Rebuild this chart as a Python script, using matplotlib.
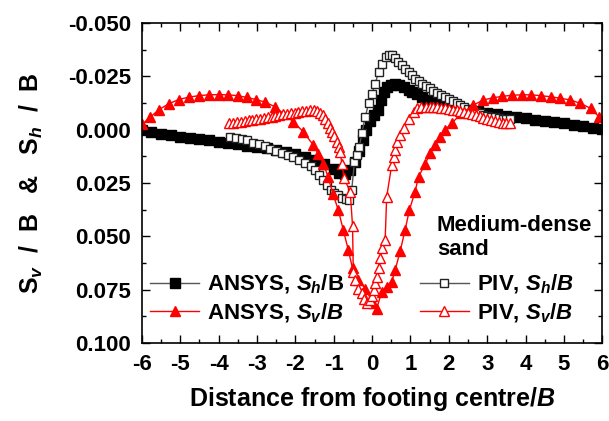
import matplotlib
matplotlib.use('Agg')
import matplotlib.pyplot as plt
from matplotlib.ticker import MultipleLocator, FormatStrFormatter

plt.rcParams['font.family'] = ['Liberation Sans', 'DejaVu Sans']
plt.rcParams['font.weight'] = 'bold'
plt.rcParams['axes.labelweight'] = 'bold'
plt.rcParams['axes.unicode_minus'] = False
plt.rcParams['mathtext.fontset'] = 'custom'
plt.rcParams['mathtext.rm'] = 'Liberation Sans:bold'
plt.rcParams['mathtext.it'] = 'Liberation Sans:italic:bold'
plt.rcParams['mathtext.bf'] = 'Liberation Sans:bold'

# ANSYS, Sh/B (filled squares)
ansys_h_x = [-6.0, -5.75, -5.5, -5.25, -5.0, -4.75, -4.5, -4.25, -4.0, -3.75, -3.5, -3.25,
             -3.0, -2.75, -2.5, -2.25, -2.0, -1.75, -1.5, -1.25, -1.0, -0.85, -0.7, -0.57,
             -0.45, -0.35, -0.25, -0.15, -0.05, 0.05, 0.15, 0.22, 0.3, 0.4, 0.5, 0.6, 0.7,
             0.82, 0.95, 1.05, 1.18, 1.3, 1.42, 1.55, 1.75, 2.0, 2.25, 2.5, 2.75, 3.0, 3.25,
             3.5, 3.75, 4.0, 4.25, 4.5, 4.75, 5.0, 5.25, 5.5, 5.75, 6.0]
ansys_h_y = [0.0, 0.001, 0.0018, 0.0025, 0.0032, 0.0038, 0.0044, 0.005, 0.0056, 0.0062,
             0.0068, 0.0074, 0.008, 0.0087, 0.0095, 0.0104, 0.0114, 0.0126, 0.014, 0.0158,
             0.0185, 0.0202, 0.0206, 0.019, 0.015, 0.010, 0.005, 0.0, -0.004, -0.007,
             -0.0095, -0.014, -0.0178, -0.020, -0.021, -0.0217, -0.021, -0.020, -0.0188,
             -0.0178, -0.0166, -0.0155, -0.0142, -0.0131, -0.0122, -0.0112, -0.0102,
             -0.0094, -0.0086, -0.0079, -0.0072, -0.0066, -0.006, -0.0054, -0.0048,
             -0.0042, -0.0036, -0.003, -0.0023, -0.0016, -0.0009, -0.0002]

# ANSYS, Sv/B (filled triangles)
ansys_v_x = [-6.0, -5.78, -5.55, -5.3, -5.04, -4.78, -4.52, -4.26, -4.0, -3.75, -3.5, -3.27,
             -3.03, -2.79, -2.53, -2.05, -1.79, -1.53, -1.4, -1.27, -1.15, -1.02, -0.88,
             -0.75, -0.62, -0.51, -0.36, -0.18, 0.03, 0.12, 0.25, 0.38, 0.51, 0.6, 0.73,
             0.86, 0.97, 1.12, 1.21, 1.38, 1.51, 1.64, 1.77, 1.9, 2.07, 2.33, 2.64, 2.9,
             3.15, 3.39, 3.65, 3.9, 4.13, 4.4, 4.65, 4.9, 5.17, 5.43, 5.7, 5.92]
ansys_v_y = [-0.0025, -0.006, -0.0095, -0.0122, -0.0142, -0.0153, -0.016, -0.0164, -0.0165,
             -0.0164, -0.016, -0.0152, -0.0142, -0.013, -0.0108, -0.0038, 0.001, 0.0072,
             0.0115, 0.0158, 0.022, 0.030, 0.0377, 0.047, 0.0564, 0.065, 0.0705, 0.0744,
             0.0814, 0.0838, 0.076, 0.0736, 0.0713, 0.0658, 0.057, 0.047, 0.0377, 0.029,
             0.022, 0.0162, 0.011, 0.0072, 0.0033, 0.0, -0.003, -0.0077, -0.0116, -0.014,
             -0.015, -0.0157, -0.0162, -0.0164, -0.0164, -0.016, -0.0155, -0.0148, -0.014,
             -0.0124, -0.010, -0.006]

# PIV, Sh/B (open squares)
piv_h_x = [-3.7, -3.55, -3.4, -3.25, -3.1, -2.95, -2.8, -2.65, -2.5, -2.35, -2.2, -2.05,
           -1.9, -1.75, -1.6, -1.48, -1.38, -1.28, -1.18, -1.08, -0.98, -0.88, -0.78, -0.68,
           -0.6, -0.53, -0.46, -0.4, -0.33, -0.27, -0.18, -0.09, 0.0, 0.08, 0.17, 0.26,
           0.35, 0.43, 0.52, 0.6, 0.68, 0.77, 0.86, 0.95, 1.04, 1.12, 1.21, 1.3, 1.4, 1.5,
           1.6, 1.7, 1.8, 1.9, 2.0, 2.1, 2.2, 2.3, 2.4, 2.5, 2.6, 2.7, 2.8, 2.9, 3.0, 3.1,
           3.2, 3.3, 3.4, 3.5, 3.6]
piv_h_y = [0.0033, 0.0038, 0.0044, 0.005, 0.006, 0.0068, 0.0078, 0.0088, 0.0098, 0.0108,
           0.0118, 0.0128, 0.014, 0.0155, 0.017, 0.019, 0.021, 0.0235, 0.026, 0.028,
           0.0295, 0.0306, 0.0318, 0.0326, 0.033, 0.028, 0.015, 0.0119, 0.008, 0.0017,
           -0.006, -0.0124, -0.017, -0.0217, -0.027, -0.031, -0.034, -0.0352, -0.035,
           -0.0335, -0.032, -0.0303, -0.0285, -0.027, -0.0255, -0.024, -0.0228, -0.0217,
           -0.0205, -0.0194, -0.0183, -0.0173, -0.0163, -0.0152, -0.0143, -0.0134,
           -0.0125, -0.0116, -0.0108, -0.0099, -0.0091, -0.0083, -0.0077, -0.0071,
           -0.0066, -0.0062, -0.0058, -0.0055, -0.0053, -0.0051, -0.005]

# PIV, Sv/B (open triangles)
piv_v_x = [-3.72, -3.62, -3.52, -3.42, -3.32, -3.22, -3.12, -3.02, -2.92, -2.82, -2.72,
           -2.62, -2.52, -2.42, -2.32, -2.22, -2.12, -2.02, -1.92, -1.82, -1.72, -1.62,
           -1.52, -1.44, -1.36, -1.29, -1.23, -1.16, -1.10, -1.04, -0.98, -0.92, -0.86,
           -0.83, -0.79, -0.73, -0.57, -0.51, -0.49, -0.44, -0.36, -0.27, -0.21, -0.12,
           -0.05, 0.0, 0.04, 0.08, 0.12, 0.17, 0.21, 0.25, 0.34, 0.38, 0.51, 0.56, 0.60,
           0.66, 0.73, 0.82, 0.95, 1.08, 1.18, 1.28, 1.40, 1.50, 1.60, 1.70, 1.80, 1.90,
           2.00, 2.10, 2.20, 2.30, 2.40, 2.50, 2.60, 2.70, 2.80, 2.90, 3.00, 3.10, 3.20,
           3.30, 3.40, 3.50, 3.60]
piv_v_y = [-0.0030, -0.0033, -0.0036, -0.0038, -0.0041, -0.0044, -0.0047, -0.0050, -0.0053,
           -0.0056, -0.0059, -0.0062, -0.0066, -0.0069, -0.0072, -0.0075, -0.0078, -0.0081,
           -0.0084, -0.0087, -0.0090, -0.0092, -0.0092, -0.0088, -0.0080, -0.0068, -0.0052,
           -0.0030, -0.0008, 0.0010, 0.0030, 0.0056, 0.0080, 0.0103, 0.0158, 0.0228,
           0.0290, 0.0450, 0.0666, 0.0705, 0.0744, 0.0767, 0.0795, 0.0810, 0.0800, 0.0780,
           0.0750, 0.0720, 0.0690, 0.0650, 0.0600, 0.0556, 0.0517, 0.0314, 0.0166, 0.0127,
           0.0095, 0.0056, 0.0025, -0.0007, -0.0053, -0.0084, -0.0100, -0.0106, -0.0109,
           -0.0109, -0.0108, -0.0106, -0.0104, -0.0101, -0.0098, -0.0095, -0.0092, -0.0088,
           -0.0084, -0.0080, -0.0075, -0.0069, -0.0063, -0.0057, -0.0051, -0.0046, -0.0041,
           -0.0037, -0.0034, -0.0032, -0.0030]

fig = plt.figure(figsize=(6.09, 4.21), dpi=100)
ax = fig.add_axes([0.233, 0.185, 0.756, 0.760])

ax.plot(ansys_h_x, ansys_h_y, color='#555555', lw=1, marker='s', ms=6.5,
        mfc='black', mec='black', label='ANSYS, $S_h$/B')
ax.plot(piv_h_x, piv_h_y, color='#555555', lw=1, marker='s', ms=5.5,
        mfc='white', mec='#222222', mew=1, label='PIV, $S_h/B$')
ax.plot(ansys_v_x, ansys_v_y, color='red', lw=1, marker='^', ms=7.5,
        mfc='red', mec='red', label='ANSYS, $S_v/B$')
ax.plot(piv_v_x, piv_v_y, color='red', lw=1, marker='^', ms=7,
        mfc='white', mec='red', mew=1, label='PIV, $S_v/B$')

ax.set_xlim(-6, 6)
ax.set_ylim(0.100, -0.050)
ax.xaxis.set_major_locator(MultipleLocator(1))
ax.xaxis.set_minor_locator(MultipleLocator(0.5))
ax.yaxis.set_major_locator(MultipleLocator(0.025))
ax.yaxis.set_minor_locator(MultipleLocator(0.0125))
ax.yaxis.set_major_formatter(FormatStrFormatter('%.3f'))
ax.tick_params(which='both', direction='in', top=True, right=True, width=1)
ax.tick_params(which='major', length=6, labelsize=16, pad=8)
ax.tick_params(which='minor', length=3)
for s in ax.spines.values():
    s.set_linewidth(1.2)

ax.set_xlabel('Distance from footing centre/$B$', fontsize=18, labelpad=7)
ax.set_ylabel('S$_v$  /  B   &   S$_h$  /  B', fontsize=18, labelpad=16)

# legend: row 1 = Sh, row 2 = Sv
h, l = ax.get_legend_handles_labels()
order = [0, 2, 1, 3]
ax.legend([h[i] for i in order], [l[i] for i in order], ncol=2, frameon=False,
          prop={'weight': 'bold', 'size': 16}, loc='upper left',
          bbox_to_anchor=(0.247, 0.352), bbox_transform=fig.transFigure,
          borderpad=0, borderaxespad=0, handlelength=2.2, handletextpad=0.35,
          columnspacing=3.4, labelspacing=0.25)

fig.text(437 / 609, 1 - 215 / 421, 'Medium-dense\nsand', fontsize=16,
         ha='left', va='top', linespacing=1.2)

fig.savefig('out.png', dpi=100)
